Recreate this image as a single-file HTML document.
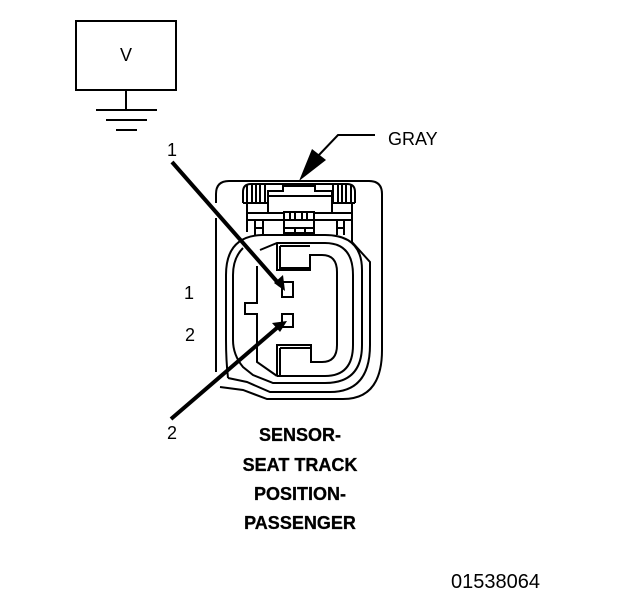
<!DOCTYPE html>
<html>
<head>
<meta charset="utf-8">
<style>
html,body{margin:0;padding:0;background:#fff}
svg{display:block}
text{font-family:"Liberation Sans",sans-serif;fill:#000}
.b{font-weight:bold;font-size:18px;text-anchor:middle;stroke:#000;stroke-width:.3}
.n{font-size:18px}
</style>
</head>
<body>
<svg width="624" height="600" viewBox="0 0 624 600" xmlns="http://www.w3.org/2000/svg">
<g fill="none" stroke="#000" stroke-width="2">
  <!-- V box + ground -->
  <rect x="76" y="21" width="100" height="69"/>
  <path d="M126 90V110M96 110H157M106 120H147M116 130H137"/>

  <!-- gray leader -->
  <path d="M375 135H338L318 156"/>

  <!-- housing -->
  <path d="M216 372V218M216 203V194Q216 181 229 181H369Q382 181 382 194V350Q382 399 343 399H267L243 390L220 387"/>

  <!-- rings -->
  <path d="M228 378L247 382L270 392H330Q370 392 370 345V262L352 242V203"/>
  <path d="M228 378Q226 360 226 340V275Q226 236 262 235H325Q362 235 362 270V345Q362 383 325 383H273L253 375L243 367Q233 355 233 340V275Q233 258 243 248"/>
  <path d="M260 250L277 243H325Q353 243 353 275V345Q353 376 325 376H277"/>

  <!-- top latch -->
  <path d="M243 203V192Q243 184 251 184H347Q355 184 355 192V203"/>
  <path d="M247 202V185M252 202V185M256 202V185M260 202V185M265 202V185"/>
  <path d="M351 202V185M346 202V185M342 202V185M338 202V185M333 202V185"/>
  <path d="M243 203H268V191H283V186H315V191H332V203H355"/>
  <path d="M268 196H332"/>
  <path d="M268 203V213M332 203V213"/>
  <path d="M247 203V232"/>
  <path d="M247 213H283M315 213H352M247 220H283M315 220H352"/>
  <path d="M284 212H314V233H284ZM290 212V220M295 212V220M302 212V220M307 212V220M284 220H314M284 228H314M295 228V233M305 228V233"/>
  <path d="M255 220V235M263 220V235M255 228H263M337 220V235M344 220V235M337 228H344"/>

  <!-- cavity -->
  <path d="M277 243V270H310V255H322Q337 255 337 272V345Q337 362 322 362H311V345H277V376"/>
  <path d="M280 246H310M280 246V268H310"/>
  <path d="M280 348H310M280 348V375"/>
  <path d="M257 266V303H245V314H257V362L277 376"/>

  <!-- terminals -->
  <rect x="282" y="282" width="11" height="15"/>
  <rect x="282" y="314" width="11" height="13"/>

  <!-- pointers -->
  <path d="M172 162L280 285" stroke-width="4"/>
  <path d="M171 419L278 327" stroke-width="4"/>
</g>
<g fill="#000">
  <polygon points="299,181 312,149 326,160"/>
  <polygon points="285,291 274,283 283,275"/>
  <polygon points="287,321 280,332 272,323"/>
</g>

<text x="167" y="156" class="n">1</text>
<text x="167" y="439" class="n">2</text>
<text x="184" y="299" class="n">1</text>
<text x="185" y="341" class="n">2</text>
<text x="120" y="61" font-size="18">V</text>
<text x="388" y="145" font-size="18">GRAY</text>
<text x="300" y="441" class="b">SENSOR-</text>
<text x="300" y="471" class="b">SEAT TRACK</text>
<text x="300" y="500" class="b">POSITION-</text>
<text x="300" y="529" class="b">PASSENGER</text>
<text x="451" y="588" font-size="20">01538064</text>
</svg>
</body>
</html>
